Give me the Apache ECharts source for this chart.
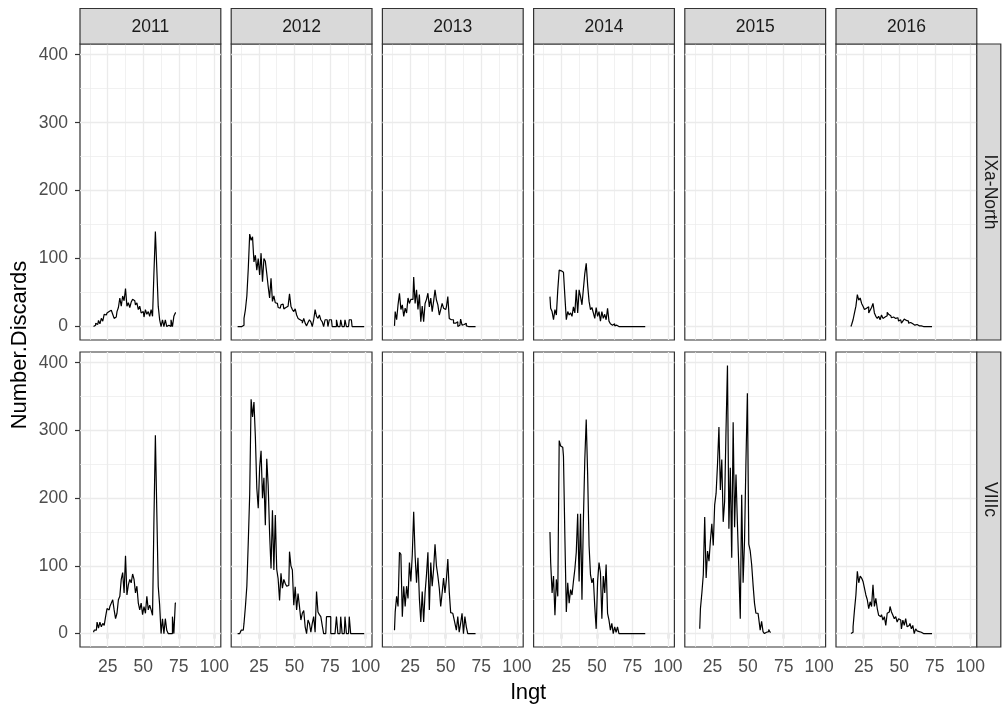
<!DOCTYPE html>
<html><head><meta charset="utf-8">
<script src="https://cdn.jsdelivr.net/npm/echarts@6/dist/echarts.min.js"></script>
<style>html,body{margin:0;padding:0;background:#fff}#c{width:1003px;height:709px}</style>
</head><body><div id="c"></div>
<script>
// ---------------- data ----------------
const years = ['2011', '2012', '2013', '2014', '2015', '2016'];
const areas = ['IXa-North', 'VIIIc'];
const lengths = [10,11,12,13,14,15,16,17,18,19,20,21,22,23,24,25,26,27,28,29,30,31,32,33,34,35,36,37,38,39,
  40,41,42,43,44,45,46,47,48,49,50,51,52,53,54,55,56,57,58,59,60,61,62,63,64,65,66,67,68,69,
  70,71,72,73,74,75,76,77,78,79,80,81,82,83,84,85,86,87,88,89,90,91,92,93,94,95,96,97,98,99,100];
const xTicks = [25, 50, 75, 100];
const yTicks = [0, 100, 200, 300, 400];
const xGridMajor = [25, 50, 75, 100];
const xGridMinor = [12.5, 37.5, 62.5, 87.5];
const yGridMajor = [0, 100, 200, 300, 400];
const yGridMinor = [50, 150, 250, 350];

// first length (cm) of each series
const north2011Start = 15, north2012Start = 10, north2013Start = 14, north2014Start = 17, north2015Start = 10, north2016Start = 16;
const south2011Start = 15, south2012Start = 10, south2013Start = 14, south2014Start = 17, south2015Start = 16, south2016Start = 16;

const north2011 = [0,2,5,3,9,4,12,8,18,17, 20,22,24,25,18,12,14,22,28,42, 30,45,38,56,30,35,28,36,40,38,
  32,35,25,30,20,22,14,25,18,22, 15,25,15,80,140,85,30,10,0,10, 0,10,0,2,0,10,0,15,20];
const north2012 = [0,0,0,0,2,12,25,45,85,136, 127,132,95,105,83,100,76,108,66,100, 96,78,59,42,71,37,45,35,34,28,
  27,32,33,26,28,30,29,48,30,25, 22,26,17,12,10,8,5,12,5,1, 6,10,7,0,10,25,15,12,17,10,
  7,0,10,10,0,10,10,0,0,0, 10,0,0,10,0,0,10,0,0,10, 10,0,0,0,0,0,0,0,0,0];
const north2013 = [1,22,10,32,49,25,32,15,27,20, 42,34,40,40,73,34,54,25,47,7, 30,7,34,40,49,29,42,22,37,54,
  39,32,17,25,34,27,25,29,44,12, 10,10,5,5,7,0,2,11,2,3, 5,1,0,0,0,0,0,0];
const north2014 = [44,27,22,10,25,17,54,83,82,80, 78,44,10,22,17,20,15,29,20,54, 20,54,44,32,55,78,93,61,37,25,
  28,20,12,28,15,22,8,22,12,18, 10,27,8,4,2,4,1,2,0,0, 0,0,0,0,0,0,0,0,0,0, 0,0,0,0,0,0,0,0];
const north2015 = [];
const north2016 = [0,3,10,20,30,47,39,42,34,30, 25,27,29,20,24,28,34,20,15,12, 15,10,17,12,14,16,21,18,16,13,
  14,12,10,13,8,10,5,8,11,9, 8,5,6,4,4,2,3,1,1,1, 0,0,0,0,0,0,0,0];

const south2011 = [2,5,5,17,8,17,10,15,12,25, 37,35,40,45,50,35,22,30,50,55, 80,90,60,115,57,72,80,75,88,80,
  60,70,45,35,45,28,40,30,55,35, 42,35,27,170,293,180,70,42,0,22, 0,22,5,0,0,0,25,0,45];
const south2012 = [0,0,0,5,5,15,40,70,135,205, 346,320,342,290,215,185,245,270,200,230, 160,258,219,148,96,182,94,175,95,81,
  49,89,67,80,74,70,71,121,100,94, 42,69,35,59,40,20,30,34,10,0, 20,15,2,15,25,2,62,32,28,25,
  12,0,0,25,25,25,0,0,0,0, 25,0,0,25,0,0,25,0,0,25, 0,0,0,0,0,0,0,0,0,0];
const south2013 = [5,32,55,40,120,117,25,70,40,70, 52,105,77,116,180,115,75,112,52,17, 62,17,60,87,120,35,105,70,95,132,
  100,85,67,40,60,82,60,80,110,62, 31,30,25,15,5,25,2,15,30,0, 25,10,0,0,0,0,0,0];
const south2014 = [150,105,60,85,27,80,55,285,277,275, 262,142,32,75,45,65,57,77,95,120, 177,77,177,50,167,257,316,235,130,87,
  75,82,40,7,77,105,90,22,85,60, 102,30,20,5,15,0,10,2,10,0, 0,0,0,0,0,0,0,0,0,0, 0,0,0,0,0,0,0,0];
const south2015 = [7,37,60,87,172,82,122,107,137,162, 130,190,207,250,305,212,257,165,195,302,
  396,155,245,112,312,157,235,162,95,22, 205,75,137,255,355,132,122,102,72,45, 30,30,22,5,18,3,0,2,3,6, 2];
const south2016 = [0,2,10,35,57,92,75,85,82,77, 67,57,50,37,47,40,72,40,52,37, 27,25,28,20,25,12,30,32,40,32,
  27,22,25,17,22,20,7,20,12,22, 10,12,15,7,12,0,7,4,3,2, 1,0,0,0,0,0,0,0];

const panelValues = [
  [north2011, north2012, north2013, north2014, north2015, north2016],
  [south2011, south2012, south2013, south2014, south2015, south2016]
];
const panelStarts = [
  [north2011Start, north2012Start, north2013Start, north2014Start, north2015Start, north2016Start],
  [south2011Start, south2012Start, south2013Start, south2014Start, south2015Start, south2016Start]
];

// ---------------- layout ----------------
const FONT = '"Liberation Sans", Arial, sans-serif';
const colLeft = [80, 231.2, 382.4, 533.6, 684.8, 836];
const panelW = 140.8;
const rowTop = [44, 352];
const rowH = [296, 295];
const X_MIN = 5.5, X_MAX = 104.5, Y_MIN = -19.8, Y_MAX = 415.8;
const TICK_FS = 17.5, TITLE_FS = 22;

const grids = [], xAxes = [], yAxes = [], series = [];
for (let r = 0; r < 2; r++) {
  for (let c = 0; c < 6; c++) {
    const i = r * 6 + c;
    grids.push({left: colLeft[c], top: rowTop[r], width: panelW, height: rowH[r],
      show: true, backgroundColor: '#ffffff', borderColor: '#333333', borderWidth: 1.2, containLabel: false});
    xAxes.push({type: 'value', gridIndex: i, min: X_MIN, max: X_MAX,
      axisLine: {show: false}, splitLine: {show: false},
      axisTick: {show: r === 1, customValues: xTicks, length: 5, lineStyle: {color: '#333333', width: 1.2}},
      axisLabel: {show: r === 1, customValues: xTicks, color: '#4d4d4d', fontSize: TICK_FS, fontFamily: FONT, margin: 11}});
    yAxes.push({type: 'value', gridIndex: i, min: Y_MIN, max: Y_MAX,
      axisLine: {show: false}, splitLine: {show: false},
      axisTick: {show: c === 0, customValues: yTicks, length: 5, lineStyle: {color: '#333333', width: 1.2}},
      axisLabel: {show: c === 0, customValues: yTicks, color: '#4d4d4d', fontSize: TICK_FS, fontFamily: FONT, margin: 12}});
    const ml = [];
    yGridMinor.forEach(v => ml.push({yAxis: v, lineStyle: {width: 0.7}}));
    xGridMinor.forEach(v => ml.push({xAxis: v, lineStyle: {width: 0.7}}));
    yGridMajor.forEach(v => ml.push({yAxis: v, lineStyle: {width: 1.3}}));
    xGridMajor.forEach(v => ml.push({xAxis: v, lineStyle: {width: 1.3}}));
    series.push({type: 'line', xAxisIndex: i, yAxisIndex: i, data: [], z: 1, silent: true,
      markLine: {silent: true, z: 1, symbol: ['none', 'none'], animation: false, label: {show: false},
        lineStyle: {color: '#EBEBEB', type: 'solid'}, emphasis: {disabled: true}, data: ml}});
    const vals = panelValues[r][c];
    const s0 = lengths.indexOf(panelStarts[r][c]);
    const d = vals.map((v, k) => [lengths[s0 + k], v]);
    series.push({type: 'line', xAxisIndex: i, yAxisIndex: i, data: d, z: 4, symbol: 'none', silent: true,
      step: 'middle', lineStyle: {color: '#000000', width: 1.2}, animation: false});
  }
}

// strips & titles
const graphics = [];
years.forEach((y, c) => {
  graphics.push({type: 'rect', shape: {x: colLeft[c], y: 8.5, width: panelW, height: 35.5},
    style: {fill: '#D9D9D9', stroke: '#333333', lineWidth: 1.2}, z: 10});
  graphics.push({type: 'text', x: colLeft[c] + panelW / 2, y: 27.5,
    style: {text: y, fill: '#1A1A1A', font: TICK_FS + 'px ' + FONT, textAlign: 'center', textVerticalAlign: 'middle'}, z: 11});
});
areas.forEach((a, r) => {
  graphics.push({type: 'rect', shape: {x: colLeft[5] + panelW, y: rowTop[r], width: 24, height: rowH[r]},
    style: {fill: '#D9D9D9', stroke: '#333333', lineWidth: 1.2}, z: 10});
  graphics.push({type: 'text', x: colLeft[5] + panelW + 13, y: rowTop[r] + rowH[r] / 2, rotation: -Math.PI / 2,
    style: {text: a, fill: '#1A1A1A', font: TICK_FS + 'px ' + FONT, textAlign: 'center', textVerticalAlign: 'middle'}, z: 11});
});
graphics.push({type: 'text', x: 20, y: 345, rotation: Math.PI / 2,
  style: {text: 'Number.Discards', fill: '#000000', font: TITLE_FS + 'px ' + FONT, textAlign: 'center', textVerticalAlign: 'middle'}});
graphics.push({type: 'text', x: 528.5, y: 693,
  style: {text: 'lngt', fill: '#000000', font: TITLE_FS + 'px ' + FONT, textAlign: 'center', textVerticalAlign: 'middle'}});

const chart = echarts.init(document.getElementById('c'), null, {renderer: 'canvas'});
chart.setOption({
  animation: false,
  backgroundColor: '#ffffff',
  grid: grids, xAxis: xAxes, yAxis: yAxes, series: series,
  graphic: {elements: graphics}
});
</script>
</body></html>
